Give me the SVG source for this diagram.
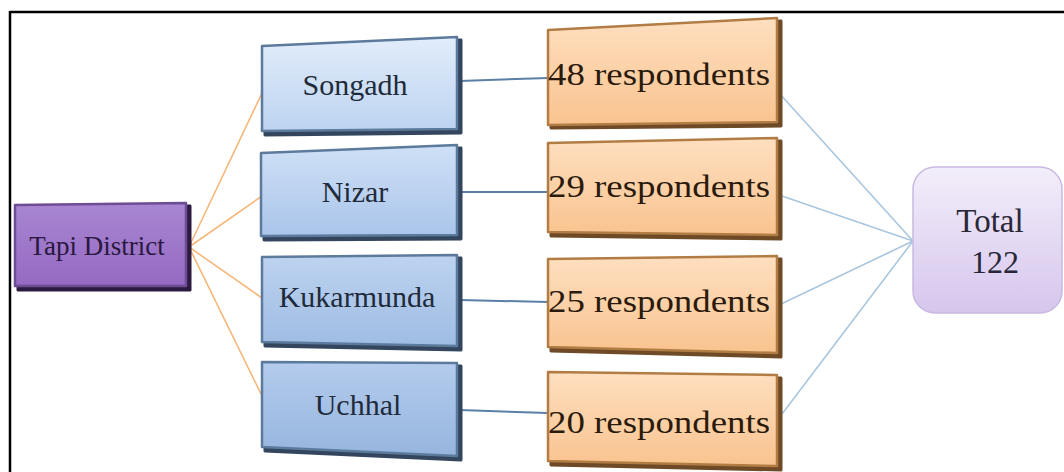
<svg xmlns="http://www.w3.org/2000/svg" width="1064" height="472" viewBox="0 0 1064 472">
<style>
.t{font-family:"Liberation Serif","Times New Roman",serif;text-anchor:middle}
.blue{stroke:#5c7a9c;stroke-width:2.5;stroke-linejoin:round}
.org{stroke:#b27d45;stroke-width:2.5;stroke-linejoin:round}
.sh{stroke-linejoin:round;stroke-width:3}
.shb{fill:#33465e;stroke:#33465e}
.sho{fill:#6e4a26;stroke:#6e4a26}
.c1{stroke:#f6b77a;stroke-width:1.6;fill:none}
.c2{stroke:#5b7fa6;stroke-width:2;fill:none}
.c3{stroke:#a9c6de;stroke-width:1.6;fill:none}
</style>
<defs>
<linearGradient id="gB1" x1="0" y1="0" x2="0" y2="1"><stop offset="0" stop-color="#e2edfb"/><stop offset="1" stop-color="#bcd3f0"/></linearGradient>
<linearGradient id="gB2" x1="0" y1="0" x2="0" y2="1"><stop offset="0" stop-color="#cfe0f6"/><stop offset="1" stop-color="#aac5ea"/></linearGradient>
<linearGradient id="gB3" x1="0" y1="0" x2="0" y2="1"><stop offset="0" stop-color="#bdd3f0"/><stop offset="1" stop-color="#9fbce3"/></linearGradient>
<linearGradient id="gB4" x1="0" y1="0" x2="0" y2="1"><stop offset="0" stop-color="#b4cced"/><stop offset="1" stop-color="#96b5de"/></linearGradient>
<linearGradient id="gO" x1="0" y1="0" x2="0" y2="1"><stop offset="0" stop-color="#fedfc0"/><stop offset="1" stop-color="#f9c38f"/></linearGradient>
<linearGradient id="gP" x1="0" y1="0" x2="0" y2="1"><stop offset="0" stop-color="#a886d2"/><stop offset="1" stop-color="#9569c2"/></linearGradient>
<linearGradient id="gT" x1="0" y1="0" x2="0" y2="1"><stop offset="0" stop-color="#f3eefa"/><stop offset="1" stop-color="#d6c6ed"/></linearGradient>
</defs>
<rect width="1064" height="472" fill="#ffffff"/>
<!-- frame -->
<g id="frame" stroke="#000" stroke-width="2.5" fill="none">
<line x1="10" y1="12" x2="1064" y2="12"/>
<line x1="10" y1="11" x2="10" y2="472"/>
</g>
<!-- connectors -->
<g id="connectors">
<line class="c1" x1="189" y1="247" x2="262" y2="93"/>
<line class="c1" x1="189" y1="247" x2="262" y2="196"/>
<line class="c1" x1="189" y1="247" x2="262" y2="298"/>
<line class="c1" x1="189" y1="247" x2="262" y2="396"/>
<line class="c2" x1="460" y1="81" x2="548" y2="78"/>
<line class="c2" x1="460" y1="192" x2="548" y2="192"/>
<line class="c2" x1="460" y1="300" x2="548" y2="302"/>
<line class="c2" x1="460" y1="410" x2="548" y2="413"/>
<line class="c3" x1="779" y1="93" x2="913" y2="241"/>
<line class="c3" x1="779" y1="195" x2="913" y2="241"/>
<line class="c3" x1="779" y1="305" x2="913" y2="241"/>
<line class="c3" x1="779" y1="418" x2="913" y2="241"/>
</g>
<!-- Tapi District -->
<g id="tapi">
<polygon class="sh" fill="#2c1a40" stroke="#2c1a40" points="18,208 190,206 190,290 18,290"/>
<polygon fill="url(#gP)" stroke="#6d4c93" stroke-width="2.5" stroke-linejoin="round" points="15,205 186,203 186,286 15,286"/>
<text class="t" x="97" y="255" font-size="27" fill="#2a1840">Tapi District</text>
</g>
<!-- Blue boxes -->
<g id="songadh">
<polygon class="sh shb" points="265,49 461,40 461,133 265,135"/>
<polygon class="blue" fill="url(#gB1)" points="262,46 457,37 457,129 262,131"/>
<text class="t" x="355" y="95" font-size="30" fill="#1f2b3a">Songadh</text>
</g>
<g id="nizar">
<polygon class="sh shb" points="264,156 461,148 461,239 264,240"/>
<polygon class="blue" fill="url(#gB2)" points="261,153 457,145 457,235 261,236"/>
<text class="t" x="355" y="202" font-size="30" fill="#1f2b3a">Nizar</text>
</g>
<g id="kukarmunda">
<polygon class="sh shb" points="265,260 461,258 461,350 265,346"/>
<polygon class="blue" fill="url(#gB3)" points="262,257 457,255 457,346 262,342"/>
<text class="t" x="357" y="307" font-size="30" fill="#1f2b3a">Kukarmunda</text>
</g>
<g id="uchhal">
<polygon class="sh shb" points="265,365 461,366 461,460 265,451"/>
<polygon class="blue" fill="url(#gB4)" points="262,362 457,363 457,456 262,447"/>
<text class="t" x="358" y="415" font-size="30" fill="#1f2b3a">Uchhal</text>
</g>
<!-- Orange boxes -->
<g id="r48">
<polygon class="sh sho" points="551,33 781,21 781,126 551,128"/>
<polygon class="org" fill="url(#gO)" points="548,30 777,18 777,122 548,125"/>
<text class="t" x="659" y="85" font-size="31" textLength="222" lengthAdjust="spacingAndGlyphs" fill="#2a1a0c">48 respondents</text>
</g>
<g id="r29">
<polygon class="sh sho" points="551,146 781,141 781,239 551,236"/>
<polygon class="org" fill="url(#gO)" points="548,143 777,138 777,235 548,232"/>
<text class="t" x="659" y="197" font-size="31" textLength="222" lengthAdjust="spacingAndGlyphs" fill="#2a1a0c">29 respondents</text>
</g>
<g id="r25">
<polygon class="sh sho" points="551,262 781,259 781,357 551,351"/>
<polygon class="org" fill="url(#gO)" points="548,259 777,256 777,353 548,347"/>
<text class="t" x="659" y="312" font-size="31" textLength="222" lengthAdjust="spacingAndGlyphs" fill="#2a1a0c">25 respondents</text>
</g>
<g id="r20">
<polygon class="sh sho" points="551,375 781,378 781,470 551,465"/>
<polygon class="org" fill="url(#gO)" points="548,372 777,375 777,466 548,461"/>
<text class="t" x="659" y="433" font-size="31" textLength="222" lengthAdjust="spacingAndGlyphs" fill="#2a1a0c">20 respondents</text>
</g>
<!-- Total -->
<g id="total">
<rect x="913" y="167" width="149" height="146" rx="22" fill="url(#gT)" stroke="#c9b9e2" stroke-width="1.5"/>
<text class="t" x="990" y="232" font-size="33" fill="#2a2838">Total</text>
<text class="t" x="995" y="273" font-size="32" fill="#2a2838">122</text>
</g>
</svg>
